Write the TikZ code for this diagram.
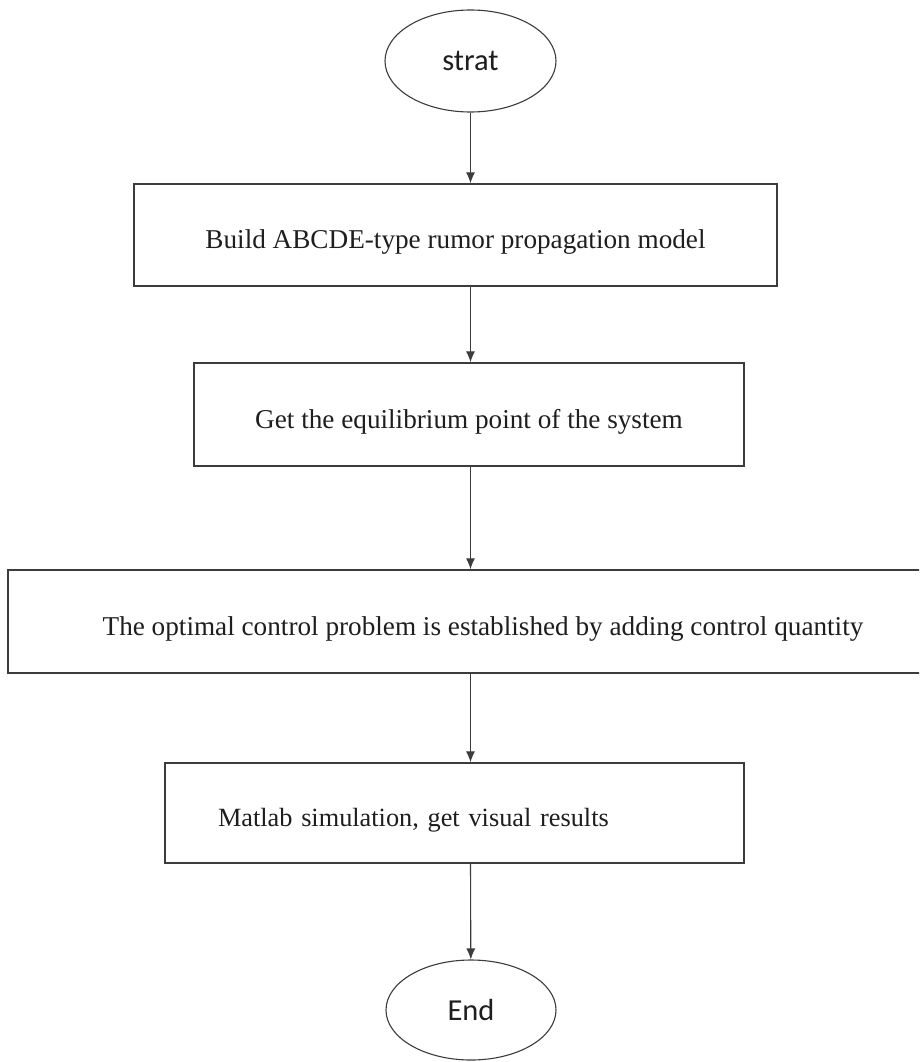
\documentclass[tikz,border=0pt]{standalone}
\usepackage{fontspec}
\setmainfont{Liberation Serif}
\newfontfamily\termfont{Carlito}
\usetikzlibrary{arrows.meta,shapes.geometric,calc}
\definecolor{edge}{RGB}{60,60,60}
\definecolor{ink}{RGB}{30,30,30}

\begin{document}
\begin{tikzpicture}[x=1pt,y=-1pt,
    term/.style={ellipse,draw=edge,line width=1.1pt,inner sep=0pt,
      font=\termfont\fontsize{30.5}{33}\selectfont,text=ink},
    proc/.style={rectangle,draw=edge,line width=1.4pt,inner sep=0pt,
      text height=27pt,text depth=0pt,
      font=\fontsize{27.2}{30}\selectfont,text=ink},
    arr/.style={-{Latex[length=11pt,width=9pt]},draw=edge,line width=1.1pt}]
        \clip (0,0) rectangle (919,1062);
        \fill[white] (0,0) rectangle (919,1062);
        % start and end
        \node[term,minimum width=171,minimum height=102] (start) at (470.5,61) {strat};
        \node[term,minimum width=170,minimum height=100] (stop) at (471,1010) {End};
        % steps
        \node[proc,minimum width=643,minimum height=102] (model) at (455.5,235) {Build ABCDE-type rumor propagation model};
        \node[proc,minimum width=550,minimum height=103] (equil) at (469,414.5) {Get the equilibrium point of the system};
        \node[proc,minimum width=950,minimum height=103] (optim) at (483,621.5) {The optimal control problem is established by adding control quantity};
        \node[proc,minimum width=579,minimum height=100,inner xsep=53,text width=473,align=left,
          font=\fontsize{26.3}{29}\selectfont] (simul) at (454.5,813) {Matlab simulation, get visual results};
        % flow
        \draw[arr] (start) -- (start |- model.north);
        \draw[arr] (model.south -| start) -- (equil.north -| start);
        \draw[arr] (equil.south -| start) -- (optim.north -| start);
        \draw[arr] (optim.south -| start) -- (simul.north -| start);
        \draw[arr] (simul.south -| start) -- (stop);
      \end{tikzpicture}
\end{document}
